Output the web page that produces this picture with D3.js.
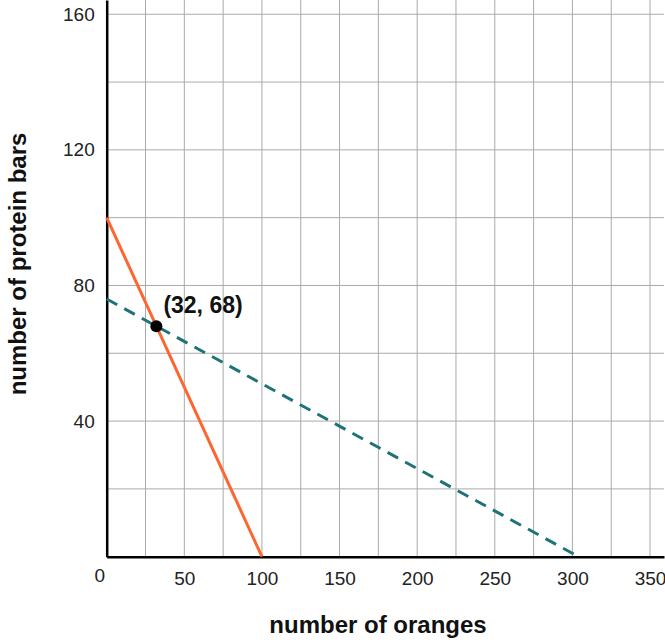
<!DOCTYPE html>
<html>
<head>
<meta charset="utf-8">
<script src="https://cdn.jsdelivr.net/npm/d3@7"></script>
<style>
  body { margin: 0; background: #fff; }
  svg { display: block; font-family: "Liberation Sans", Arial, Helvetica, sans-serif; }
  .tick-label { font-size: 19px; fill: #222; }
  .axis-title { font-size: 24px; font-weight: bold; fill: #111; }
</style>
</head>
<body>
<div id="chart"></div>
<script>
'use strict';

// tick values
const xTicks = [50, 100, 150, 200, 250, 300, 350];
const yTicks = [40, 80, 120, 160];
const xGrid = [25, 50, 75, 100, 125, 150, 175, 200, 225, 250, 275, 300, 325, 350];
const yGrid = [20, 40, 60, 80, 100, 120, 140, 160];

// the two constraint lines (oranges, protein bars)
const solidLine = [[0, 100], [100, 0]];
const dashedLine = [[0, 76], [304, 0]];

// the intersection point
const point = {x: 32, y: 68, label: '(32, 68)'};

const WIDTH = 665;
const HEIGHT = 644;
const margin = {left: 106.7, right: 1, top: 0, bottom: 87.3};

const svg = d3.select('#chart').append('svg')
    .attr('width', WIDTH)
    .attr('height', HEIGHT);

const x = d3.scaleLinear()
    .domain([0, 359])
    .range([margin.left, WIDTH - margin.right]);

const y = d3.scaleLinear()
    .domain([0, 164.2])
    .range([HEIGHT - margin.bottom, margin.top]);

// grid
svg.append('g')
    .selectAll('line')
    .data(xGrid)
    .enter()
    .append('line')
    .attr('x1', d => x(d))
    .attr('x2', d => x(d))
    .attr('y1', y(0))
    .attr('y2', y(164.2))
    .attr('stroke', '#aaa')
    .attr('stroke-width', 1);

svg.append('g')
    .selectAll('line')
    .data(yGrid)
    .enter()
    .append('line')
    .attr('x1', x(0))
    .attr('x2', x(359))
    .attr('y1', d => y(d))
    .attr('y2', d => y(d))
    .attr('stroke', '#aaa')
    .attr('stroke-width', 1);

// axes
const xAxis = d3.axisBottom(x).tickValues(xTicks).tickSize(0).tickPadding(15);
const gx = svg.append('g')
    .attr('transform', 'translate(0,' + y(0) + ')')
    .call(xAxis);
gx.select('.domain').attr('stroke', '#000').attr('stroke-width', 2.5);
gx.selectAll('text').attr('class', 'tick-label').attr('font-family', null).attr('font-size', null);

const yAxis = d3.axisLeft(y).tickValues(yTicks).tickSize(0).tickPadding(12);
const gy = svg.append('g')
    .attr('transform', 'translate(' + x(0) + ',0)')
    .call(yAxis);
gy.select('.domain').attr('stroke', '#000').attr('stroke-width', 2.5);
gy.selectAll('text').attr('class', 'tick-label').attr('font-family', null).attr('font-size', null);

// origin label
svg.append('text')
    .attr('class', 'tick-label')
    .attr('x', x(0) - 7)
    .attr('y', y(0) + 25)
    .attr('text-anchor', 'middle')
    .text('0');

// lines
const line = d3.line().x(d => x(d[0])).y(d => y(d[1]));

svg.append('path')
    .datum(dashedLine)
    .attr('d', line)
    .attr('fill', 'none')
    .attr('stroke', '#1d7476')
    .attr('stroke-width', 3)
    .attr('stroke-dasharray', '12,8');

svg.append('path')
    .datum(solidLine)
    .attr('d', line)
    .attr('fill', 'none')
    .attr('stroke', '#fd6531')
    .attr('stroke-width', 3);

// point and label
svg.append('circle')
    .attr('cx', x(point.x))
    .attr('cy', y(point.y))
    .attr('r', 6)
    .attr('fill', '#000');

svg.append('text')
    .attr('x', x(point.x) + 7)
    .attr('y', y(point.y) - 13)
    .attr('font-size', 23)
    .attr('font-weight', 'bold')
    .attr('fill', '#111')
    .text(point.label);

// axis titles
svg.append('text')
    .attr('class', 'axis-title')
    .attr('x', 378)
    .attr('y', 633)
    .attr('text-anchor', 'middle')
    .text('number of oranges');

svg.append('text')
    .attr('class', 'axis-title')
    .attr('transform', 'translate(26,264) rotate(-90)')
    .attr('text-anchor', 'middle')
    .text('number of protein bars');
</script>
</body>
</html>
